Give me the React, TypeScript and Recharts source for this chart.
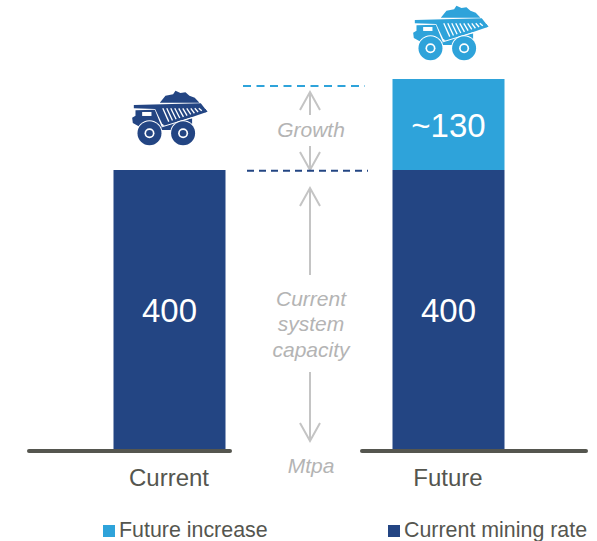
import { BarChart, Bar, XAxis, YAxis, ReferenceLine, LabelList, Legend } from "recharts";

const categories = ["Current", "Future"];
const currentRate = [400, 400];
const futureIncrease = [0, 130];
const capacityLine = 399;
const growthLine = 520;

const DARK = "#234583";
const LIGHT = "#2ea3da";
const TEXT = "#55564f";
const NOTE = "#b4b4b4";
const ARROW = "#c4c4c4";
const FONT = "'Liberation Sans', Arial, sans-serif";

const chartData = categories.map((name, i) => ({
  name,
  current: currentRate[i],
  increase: futureIncrease[i],
}));

// Drawn in a 270-wide box, scaled down by 3
function Truck({ x, y, color }: { x: number; y: number; color: string }) {
  const stripes = [112, 124, 136, 148, 160, 172, 184, 196, 208, 220];
  return (
    <g transform={`translate(${x} ${y}) scale(0.333)`}>
      <path
        fill={color}
        d="M103 53 L120 32 L143 28 L150 17 L165 24 L180 22 L192 32 L208 38 L222 53 Z"
      />
      <path fill={color} d="M25 60 L226 55 L246 80 L240 82 L90 72 L25 70 Z" />
      <path fill={color} d="M88 70 L240 72 L246 80 L120 124 L110 116 Z" />
      <path
        fill={color}
        d="M30 76 L88 74 L108 124 L200 100 L200 135 L60 135 L22 114 L20 98 L30 92 Z"
      />
      <rect x={50} y={81} width={28} height={12} fill="#fff" />
      <path d="M108 126 L200 98" stroke="#fff" strokeWidth={3} fill="none" />
      {stripes.map((sx, i) => (
        <path
          key={sx}
          d={`M${sx} 70 L${sx + 18 - i} ${110 - i * 3.6}`}
          stroke="#fff"
          strokeWidth={4}
          fill="none"
        />
      ))}
      {[72, 173].map((cx) => (
        <g key={cx}>
          <circle cx={cx} cy={145} r={39} fill="#fff" />
          <circle cx={cx} cy={145} r={36} fill={color} />
          <circle cx={cx} cy={145} r={15} fill="#fff" />
          <circle cx={cx} cy={145} r={10} fill={color} />
        </g>
      ))}
    </g>
  );
}

function Arrow({ x, from, to }: { x: number; from: number; to: number }) {
  const dir = to < from ? 1 : -1;
  return (
    <path
      d={`M${x} ${from} L${x} ${to} M${x - 10} ${to + dir * 18} L${x} ${to} L${x + 10} ${to + dir * 18}`}
      stroke={ARROW}
      strokeWidth={2}
      fill="none"
    />
  );
}

function Note({ y, text }: { y: number; text: string }) {
  return (
    <text
      x={311}
      y={y}
      textAnchor="middle"
      fontFamily={FONT}
      fontSize={21}
      fontStyle="italic"
      fill={NOTE}
    >
      {text}
    </text>
  );
}

function legendContent() {
  const items = [
    { label: "Future increase", color: LIGHT, left: 103 },
    { label: "Current mining rate", color: DARK, left: 388 },
  ];
  return (
    <div style={{ position: "relative", height: 26, fontFamily: FONT, fontSize: 21.4, color: TEXT }}>
      {items.map((it) => (
        <div key={it.label} style={{ position: "absolute", left: it.left, top: 0, whiteSpace: "nowrap" }}>
          <span
            style={{
              display: "inline-block",
              width: 12,
              height: 12,
              marginRight: 4,
              background: it.color,
            }}
          />
          {it.label}
        </div>
      ))}
    </div>
  );
}

// y comes from the chart scale, the horizontal run is set by hand
const segment = (x1: number, x2: number, extra: any) => (p: any) => (
  <line x1={x1} x2={x2} y1={p.y1} y2={p.y2} {...extra} />
);

export default function App() {
  const baseLine = { stroke: TEXT, strokeWidth: 4, strokeLinecap: "round" };
  return (
    <div style={{ position: "absolute", left: 0, top: 0 }}>
      <BarChart
        width={597}
        height={541}
        data={chartData}
        margin={{ top: 30, right: 9.5, bottom: 35, left: 29.5 }}
      >
        <XAxis
          dataKey="name"
          axisLine={false}
          tickLine={false}
          tickMargin={13}
          height={30}
          interval={0}
          tick={{ fontSize: 24, fill: TEXT, fontFamily: FONT }}
        />
        <YAxis hide domain={[0, 600]} />
        <Legend
          content={legendContent}
          wrapperStyle={{ left: 0, top: 518, width: 597 }}
        />
        <Bar
          dataKey="current"
          stackId="a"
          fill={DARK}
          barSize={112}
          isAnimationActive={false}
        >
          <LabelList
            dataKey="current"
            position="center"
            fill="#fff"
            fontSize={33}
            fontFamily={FONT}
          />
          <LabelList
            dataKey="increase"
            content={(p: any) =>
              p.value === 0 ? (
                <Truck x={p.x + p.width / 2 - 44} y={p.y - 85} color={DARK} />
              ) : null
            }
          />
        </Bar>
        <Bar
          dataKey="increase"
          stackId="a"
          fill={LIGHT}
          barSize={112}
          isAnimationActive={false}
        >
          <LabelList
            dataKey="increase"
            content={(p: any) =>
              p.value > 0 ? (
                <g>
                  <text
                    x={p.x + p.width / 2}
                    y={p.y + p.height / 2 + 12}
                    textAnchor="middle"
                    fill="#fff"
                    fontSize={33}
                    fontFamily={FONT}
                  >
                    {`~${p.value}`}
                  </text>
                  <Truck x={p.x + p.width / 2 - 42} y={p.y - 79} color={LIGHT} />
                </g>
              ) : null
            }
          />
        </Bar>
        <ReferenceLine y={-1.5} ifOverflow="visible" shape={segment(29, 230, baseLine)} />
        <ReferenceLine y={-1.5} ifOverflow="visible" shape={segment(362, 586, baseLine)} />
        <ReferenceLine
          y={growthLine}
          ifOverflow="visible"
          shape={segment(243, 365, { stroke: LIGHT, strokeWidth: 2, strokeDasharray: "8 5.5" })}
        />
        <ReferenceLine
          y={capacityLine}
          ifOverflow="visible"
          shape={segment(247, 368, { stroke: DARK, strokeWidth: 2, strokeDasharray: "7 5" })}
        />
        <Arrow x={310} from={115} to={92} />
        <Arrow x={310} from={146} to={170} />
        <Arrow x={310} from={275} to={188} />
        <Arrow x={310} from={372} to={441} />
        <Note y={137} text="Growth" />
        <Note y={306} text="Current" />
        <Note y={331} text="system" />
        <Note y={357} text="capacity" />
        <Note y={473} text="Mtpa" />
      </BarChart>
    </div>
  );
}
